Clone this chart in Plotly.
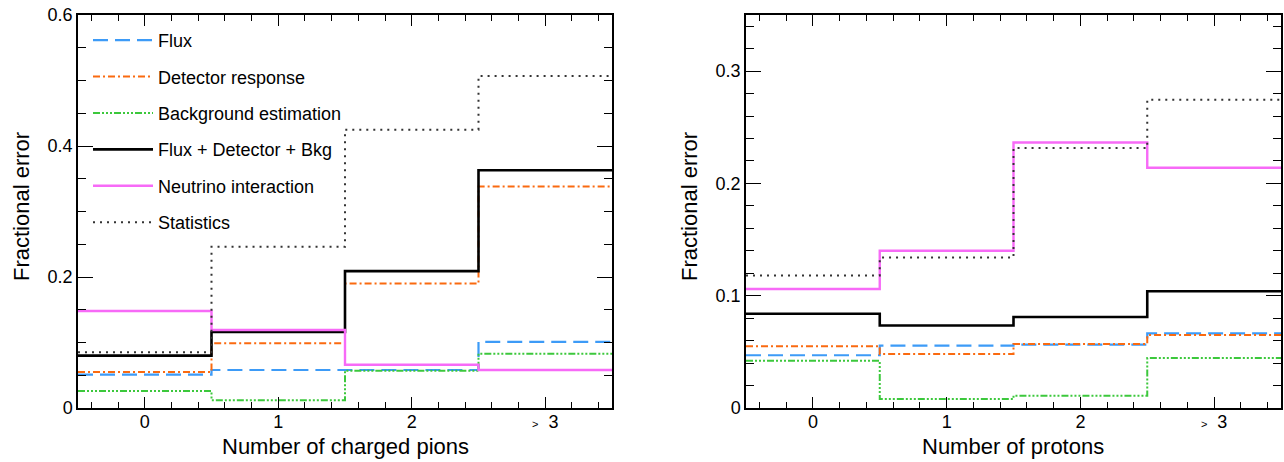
import plotly.graph_objects as go

# ---------------- data ----------------
bin_edges = [-0.5, 0.5, 1.5, 2.5, 3.5]
tick_vals = [0, 1, 2, 3]
tick_text = ["0", "1", "2", "<span style='font-size:11px'>&gt;</span>  3"]

series_names = ["Flux", "Detector response", "Background estimation",
                "Flux + Detector + Bkg", "Neutrino interaction", "Statistics"]

# Left panel: number of charged pions
pion_flux = [0.051, 0.058, 0.058, 0.101]
pion_detector = [0.055, 0.099, 0.190, 0.338]
pion_background = [0.026, 0.012, 0.057, 0.083]
pion_total = [0.080, 0.116, 0.209, 0.363]
pion_interaction = [0.148, 0.119, 0.066, 0.058]
pion_statistics = [0.085, 0.246, 0.425, 0.507]

# Right panel: number of protons
proton_flux = [0.047, 0.0555, 0.0565, 0.0665]
proton_detector = [0.055, 0.048, 0.057, 0.065]
proton_background = [0.042, 0.008, 0.011, 0.0445]
proton_total = [0.084, 0.0735, 0.081, 0.104]
proton_interaction = [0.106, 0.140, 0.2365, 0.214]
proton_statistics = [0.118, 0.134, 0.2315, 0.2745]

# ---------------- styles ----------------
styles = [
    dict(color="#3d9bf7", width=2.2, dash="15px,7px"),
    dict(color="#fa6a10", width=2.0, dash="7px,3px,2px,3px"),
    dict(color="#3cc83c", width=2.0, dash="7px,2px,2px,2px,2px,2px,2px,2px"),
    dict(color="#000000", width=2.6, dash="solid"),
    dict(color="#f76af7", width=2.4, dash="solid"),
    dict(color="#333333", width=2.0, dash="2px,5px"),
]

left_sets = [pion_flux, pion_detector, pion_background, pion_total,
             pion_interaction, pion_statistics]
right_sets = [proton_flux, proton_detector, proton_background, proton_total,
              proton_interaction, proton_statistics]

fig = go.Figure()

for i, (name, vals) in enumerate(zip(series_names, left_sets)):
    fig.add_trace(go.Scatter(
        x=bin_edges, y=list(vals) + [vals[-1]], mode="lines",
        line=dict(shape="hv", **styles[i]), name=name,
        legendgroup=name, showlegend=True, xaxis="x", yaxis="y"))

for i, (name, vals) in enumerate(zip(series_names, right_sets)):
    fig.add_trace(go.Scatter(
        x=bin_edges, y=list(vals) + [vals[-1]], mode="lines",
        line=dict(shape="hv", **styles[i]), name=name,
        legendgroup=name, showlegend=False, xaxis="x2", yaxis="y2"))

W, H = 1284, 462
left_dom = [78 / W, 612 / W]
right_dom = [746 / W, 1281 / W]
y_dom = [(H - 408) / H, (H - 15) / H]

font = "Liberation Sans, Arial, sans-serif"

xcommon = dict(
    range=[-0.5, 3.5], tickmode="array", tickvals=tick_vals, ticktext=tick_text,
    ticks="inside", ticklen=11, tickwidth=1.2, tickcolor="black",
    minor=dict(tickmode="linear", tick0=0, dtick=0.2, ticks="inside",
               ticklen=6, tickwidth=1, tickcolor="black"),
    showgrid=False, zeroline=False, showline=True, linecolor="black",
    linewidth=1.5, mirror="ticks", automargin=False, ticklabelstandoff=-3,
    tickfont=dict(family=font, size=18, color="black"),
)


def ycommon(rng, dt, mdt):
    return dict(
        range=rng, tickmode="linear", tick0=0, dtick=dt,
        ticks="inside", ticklen=15, tickwidth=1.2, tickcolor="black",
        minor=dict(tickmode="linear", tick0=0, dtick=mdt, ticks="inside",
                   ticklen=8, tickwidth=1, tickcolor="black"),
        showgrid=False, zeroline=False, showline=True, linecolor="black",
        linewidth=1.5, mirror="ticks", automargin=False,
        tickfont=dict(family=font, size=18, color="black"),
    )


fig.update_layout(
    width=W, height=H,
    margin=dict(l=0, r=0, t=0, b=0, autoexpand=False),
    paper_bgcolor="white", plot_bgcolor="white",
    font=dict(family=font, color="black"),
    xaxis=dict(domain=left_dom, anchor="y", **xcommon),
    yaxis=dict(domain=y_dom, anchor="x", **ycommon([0, 0.6], 0.2, 0.05)),
    xaxis2=dict(domain=right_dom, anchor="y2", **xcommon),
    yaxis2=dict(domain=y_dom, anchor="x2", **ycommon([0, 0.35], 0.1, 0.02)),
    legend=dict(
        x=88 / W, y=(H - 22) / H, xanchor="left", yanchor="top",
        bgcolor="rgba(0,0,0,0)", borderwidth=0,
        font=dict(family=font, size=18, color="black"),
        itemwidth=60, tracegroupgap=10,
    ),
    showlegend=True,
    annotations=[
        dict(text="Number of charged pions", x=(left_dom[0] + left_dom[1]) / 2,
             y=(H - 446) / H, xref="paper", yref="paper", showarrow=False,
             font=dict(family=font, size=22, color="black"),
             xanchor="center", yanchor="middle"),
        dict(text="Number of protons", x=(right_dom[0] + right_dom[1]) / 2,
             y=(H - 446) / H, xref="paper", yref="paper", showarrow=False,
             font=dict(family=font, size=22, color="black"),
             xanchor="center", yanchor="middle"),
        dict(text="Fractional error", x=21 / W, y=(H - 207) / H,
             xref="paper", yref="paper", showarrow=False, textangle=-90,
             font=dict(family=font, size=22, color="black"),
             xanchor="center", yanchor="middle"),
        dict(text="Fractional error", x=689 / W, y=(H - 207) / H,
             xref="paper", yref="paper", showarrow=False, textangle=-90,
             font=dict(family=font, size=22, color="black"),
             xanchor="center", yanchor="middle"),
    ],
)

fig.write_html("out.html")
